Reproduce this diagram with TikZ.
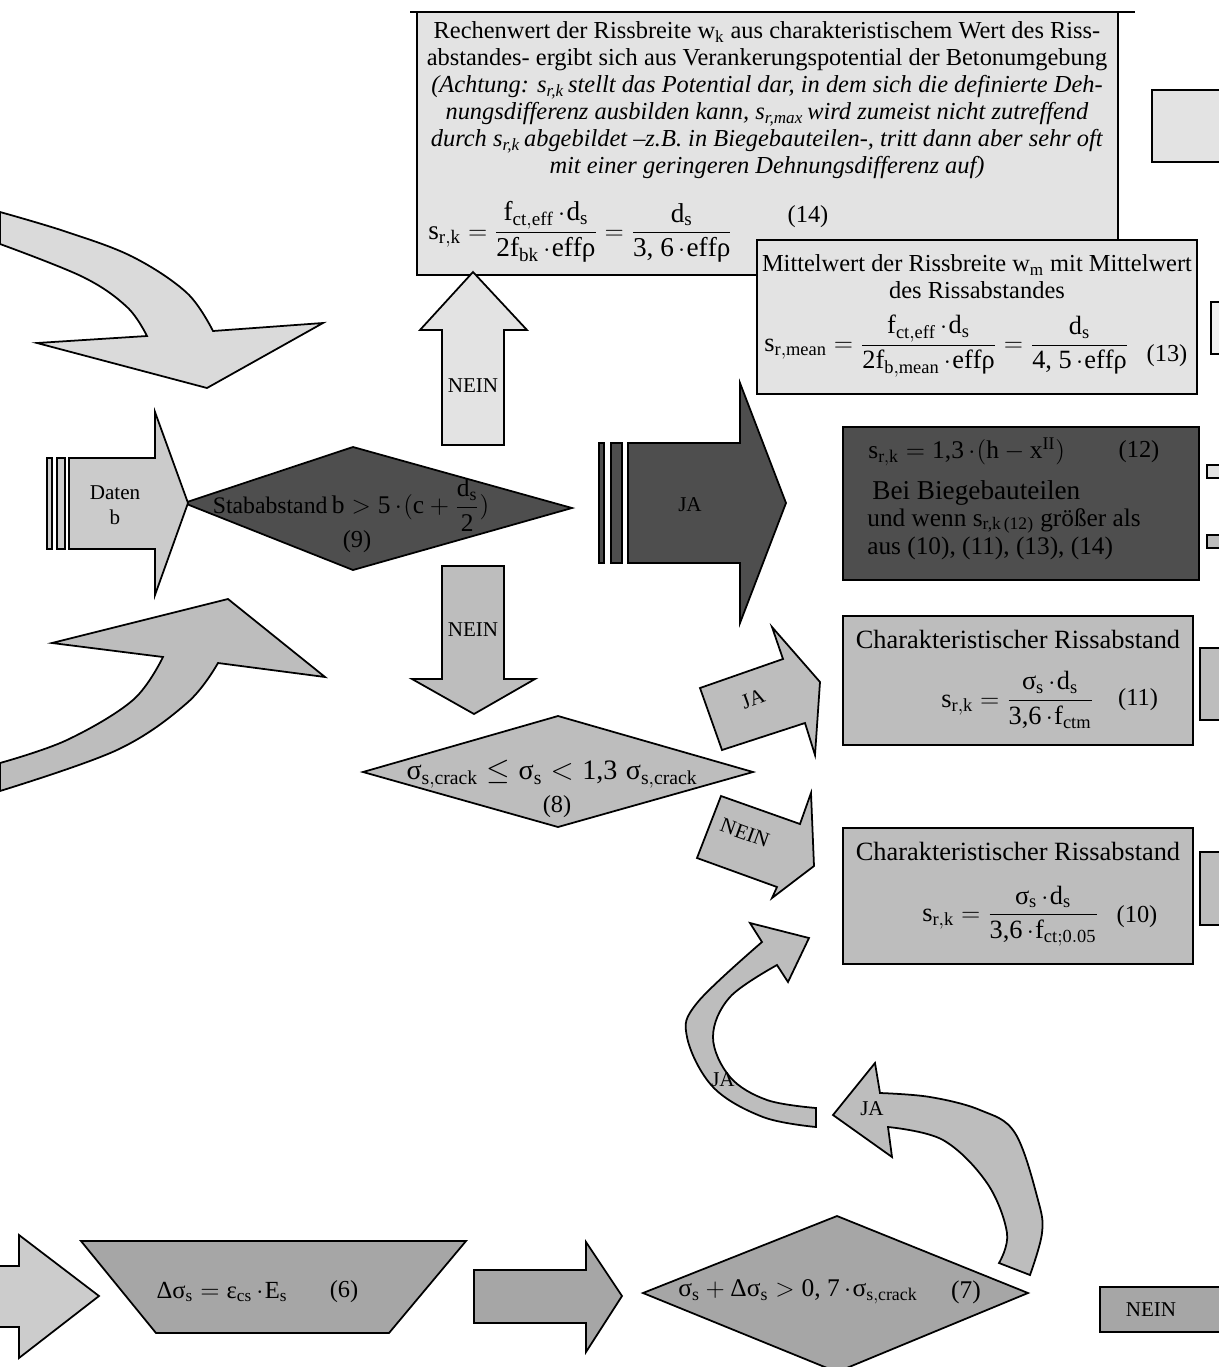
\documentclass[tikz,border=0pt]{standalone}
\usepackage{amsmath}
\usepackage{fontspec}
\setmainfont{Liberation Serif}
\definecolor{grlight}{HTML}{E3E3E3}
\definecolor{grpale}{HTML}{DADADA}
\definecolor{grdaten}{HTML}{CBCBCB}
\definecolor{grmid}{HTML}{BDBDBD}
\definecolor{grlow}{HTML}{A6A6A6}
\definecolor{grdark}{HTML}{4E4E4E}
\newcommand{\tx}[1]{\mathrm{#1}}
\newcommand{\nm}[1]{\text{#1}}
\newcommand{\dt}{\mskip3mu{\cdot}\mskip1mu}
\newcommand{\gsig}{\text{σ}}
\newcommand{\grho}{\text{ρ}}
\newcommand{\geps}{\text{ε}}
\newcommand{\gDelta}{\text{Δ}}

\begin{document}
\begin{tikzpicture}[x=0.02cm, y=-0.02cm,
  box/.style={draw=black, line width=1pt, line join=miter},
  txt/.style={inner sep=0pt, font=\fontsize{13.9}{15.4}\selectfont},
  big/.style={inner sep=0pt, font=\fontsize{15}{17}\selectfont},
  tag/.style={inner sep=0pt, font=\fontsize{12}{14}\selectfont}]
  \useasboundingbox (0,0) rectangle (1219,1367);
  \clip (0,0) rectangle (1219,1367);
  \fill[white] (0,0) rectangle (1219,1367);

  % Kasten (14) oben
  \draw[line width=1pt] (410,12) -- (1135,12);
  \filldraw[box, fill=grlight] (417,12) rectangle (1118,275);
  \node[txt, align=center] (ahead) at (767,100)
    {Rechenwert der Rissbreite w\textsubscript{k} aus charakteristischem Wert des Riss-\\
     abstandes- ergibt sich aus Verankerungspotential der Betonumgebung\\
     \textit{(Achtung: s\textsubscript{r,k}\,stellt das Potential dar, in dem sich die definierte Deh-}\\
     \textit{nungsdifferenz ausbilden kann, s\textsubscript{r,max}\,wird zumeist nicht zutreffend}\\
     \textit{durch s\textsubscript{r,k}\,abgebildet --z.B. in Biegebauteilen-, tritt dann aber sehr oft}\\
     \textit{mit einer geringeren Dehnungsdifferenz auf)}};
  \node[inner sep=0pt, font=\fontsize{15.5}{18}\selectfont, anchor=west] (feq14) at (428,232)
    {$\tx{s}_{\tx{r,k}} = \dfrac{\tx{f}_{\tx{ct,eff}}\dt\tx{d}_{\tx{s}}}{\nm{2}\tx{f}_{\tx{bk}}\dt\tx{eff}\grho}
      = \dfrac{\tx{d}_{\tx{s}}}{\nm{3, 6}\dt\tx{eff}\grho}$};
  \node[txt] (fno14) at (808,217) {(14)};

  % Kasten (13)
  \filldraw[box, fill=grlight] (757,240) rectangle (1197,394);
  \node[txt, align=center] (bhead) at (977,277)
    {Mittelwert der Rissbreite w\textsubscript{m} mit Mittelwert\\des Rissabstandes};
  \node[big, anchor=west] (feq13) at (764,346)
    {$\tx{s}_{\tx{r,mean}} = \dfrac{\tx{f}_{\tx{ct,eff}}\dt\tx{d}_{\tx{s}}}{\nm{2}\tx{f}_{\tx{b,mean}}\dt\tx{eff}\grho}
      = \dfrac{\tx{d}_{\tx{s}}}{\nm{4, 5}\dt\tx{eff}\grho}$};
  \node[txt] (fno13) at (1167,356) {(13)};

  % Kaesten am rechten Rand
  \filldraw[box, fill=grlight] (1152,90) rectangle (1230,162);
  \filldraw[box, fill=white!95!black] (1211,302) rectangle (1230,354);
  \filldraw[box, fill=grlight] (1207,465) rectangle (1230,478);
  \filldraw[box, fill=grmid] (1207,535) rectangle (1230,548);
  \filldraw[box, fill=grmid] (1200,648) rectangle (1230,720);
  \filldraw[box, fill=grmid] (1200,852) rectangle (1230,925);
  \filldraw[box, fill=grlow] (1100,1287) rectangle (1230,1332);
  \node[tag] (nein7) at (1151,1310) {NEIN};

  % gebogener Pfeil oben links
  \filldraw[box, fill=grpale]
    plot[smooth, tension=0.6] coordinates {(0,212) (67,232) (133,257) (187,293) (213,331)}
    -- (323,323) -- (207,388) -- (37,343) -- (147,336)
    -- plot[smooth, tension=0.6] coordinates {(147,336) (127,307) (83,277) (0,244)} -- cycle;

  % gebogener Pfeil unten links
  \filldraw[box, fill=grmid]
    plot[smooth, tension=0.6] coordinates {(0,763) (67,740) (133,700) (163,657)}
    -- (52,643) -- (228,599) -- (325,677) -- (218,663)
    -- plot[smooth, tension=0.6] coordinates {(218,663) (187,703) (117,750) (0,791)} -- cycle;

  % Raute (9)
  \filldraw[box, fill=grdark] (184,503) -- (353,447) -- (572,508) -- (353,570) -- cycle;
  \node[inner sep=0pt] (stab) at (351,505)
    {{\fontsize{13.5}{16}\selectfont Stababstand}\
     {\fontsize{14.5}{17}\selectfont $\tx{b} > \nm{5}\dt(\tx{c} + \dfrac{\tx{d}_{\tx{s}}}{\nm{2}})$}};
  \node[txt] (no9) at (357,542) {(9)};

  % Daten
  \filldraw[box, fill=grdaten] (47,458) rectangle (52,549);
  \filldraw[box, fill=grdaten] (57,458) rectangle (65,549);
  \filldraw[box, fill=grdaten] (69,458) -- (155,458) -- (155,412) -- (188,503)
    -- (155,595) -- (155,549) -- (69,549) -- cycle;
  \node[tag, align=center] (daten) at (115,505) {Daten\\b};

  % NEIN nach oben
  \filldraw[box, fill=grlight] (442,445) -- (442,330) -- (420,330) -- (473,272)
    -- (527,330) -- (504,330) -- (504,445) -- cycle;
  \node[tag] (neinup) at (473,386) {NEIN};

  % NEIN nach unten
  \filldraw[box, fill=grmid] (442,566) -- (504,566) -- (504,679) -- (535,679)
    -- (474,714) -- (412,679) -- (442,679) -- cycle;
  \node[tag] (neindown) at (473,630) {NEIN};

  % JA nach rechts
  \filldraw[box, fill=grdark] (599,443) rectangle (604,563);
  \filldraw[box, fill=grdark] (611,443) rectangle (622,563);
  \filldraw[box, fill=grdark] (628,443) -- (740,443) -- (740,383) -- (786,503)
    -- (740,623) -- (740,563) -- (628,563) -- cycle;
  \node[tag] (jabig) at (690,505) {JA};

  % Kasten (12)
  \filldraw[box, fill=grdark] (843,427) rectangle (1199,580);
  \node[inner sep=0pt, anchor=west, font=\fontsize{14.5}{17}\selectfont] (eq12) at (868,452)
    {$\tx{s}_{\tx{r,k}} = \nm{1,3}\dt(\tx{h}-\tx{x}^{\tx{II}})$};
  \node[txt] (no12) at (1139,452) {(12)};
  \node[inner sep=0pt, anchor=west, font=\fontsize{15.5}{18}\selectfont] (bei) at (872,493)
    {Bei Biegebauteilen};
  \node[inner sep=0pt, anchor=west, font=\fontsize{14.4}{17}\selectfont] (wenn) at (867,521)
    {und wenn s\textsubscript{r,k\,(12)} größer als};
  \node[inner sep=0pt, anchor=west, font=\fontsize{14.4}{17}\selectfont] (aus) at (867,548)
    {aus (10), (11), (13), (14)};

  % Raute (8)
  \filldraw[box, fill=grmid] (363,772) -- (558,716) -- (753,772) -- (558,827) -- cycle;
  \node[inner sep=0pt, font=\fontsize{16}{18}\selectfont] (cond8) at (552,774)
    {$\gsig_{\tx{s,crack}} \le \gsig_{\tx{s}} < \nm{1,3}\;\gsig_{\tx{s,crack}}$};
  \node[txt] (no8) at (557,807) {(8)};

  % JA schraeg
  \filldraw[box, fill=grmid] (700,688) -- (783,659) -- (772,627) -- (820,682)
    -- (815,755) -- (805,723) -- (722,750) -- cycle;
  \node[tag, rotate=20] (jaslant) at (753,699) {JA};

  % NEIN schraeg
  \filldraw[box, fill=grmid] (721,796) -- (800,824) -- (811,793) -- (814,866)
    -- (772,898) -- (777,887) -- (697,858) -- cycle;
  \node[tag, rotate=-20] (neinslant) at (745,833) {NEIN};

  % Kasten (11)
  \filldraw[box, fill=grmid] (843,616) rectangle (1193,745);
  \node[big] (title11) at (1018,639) {Charakteristischer Rissabstand};
  \node[big, anchor=east] (feq11) at (1094,700)
    {$\tx{s}_{\tx{r,k}} = \dfrac{\gsig_{\tx{s}}\dt\tx{d}_{\tx{s}}}{\nm{3,6}\dt\tx{f}_{\tx{ctm}}}$};
  \node[txt] (no11) at (1138,700) {(11)};

  % Kasten (10)
  \filldraw[box, fill=grmid] (843,828) rectangle (1193,964);
  \node[big] (title10) at (1018,851) {Charakteristischer Rissabstand};
  \node[big, anchor=east] (feq10) at (1099,916)
    {$\tx{s}_{\tx{r,k}} = \dfrac{\gsig_{\tx{s}}\dt\tx{d}_{\tx{s}}}{\nm{3,6}\dt\tx{f}_{\tx{ct;0.05}}}$};
  \node[txt] (no10) at (1137,917) {(10)};

  % gebogener JA-Pfeil nach oben
  \filldraw[box, fill=grmid]
    plot[smooth, tension=0.6] coordinates {(762,942) (697,1003) (687,1037) (713,1087) (763,1117) (816,1127)}
    -- (816,1108)
    -- plot[smooth, tension=0.6] coordinates {(816,1108) (767,1100) (730,1077) (713,1037) (730,997) (777,965)}
    -- (788,982) -- (809,938) -- (750,923) -- cycle;
  \node[tag] (jaloop) at (723,1080) {JA};

  % gebogener JA-Pfeil von (7)
  \filldraw[box, fill=grmid] (833,1115) -- (875,1063) -- (880,1093)
    -- plot[smooth, tension=0.6] coordinates {(880,1093) (930,1097) (980,1110) (1015,1133) (1038,1200) (1042,1233) (1030,1275)}
    -- (999,1263)
    -- plot[smooth, tension=0.6] coordinates {(999,1263) (1007,1233) (987,1183) (943,1140) (888,1127)}
    -- (892,1157) -- cycle;
  \node[tag] (jaback) at (872,1109) {JA};

  % untere Reihe
  \filldraw[box, fill=grlight!90!black] (-5,1266) -- (19,1266) -- (19,1235) -- (99,1296)
    -- (19,1358) -- (19,1327) -- (-5,1327) -- cycle;
  \filldraw[box, fill=grlow] (81,1241) -- (466,1241) -- (389,1333) -- (156,1333) -- cycle;
  \node[inner sep=0pt, font=\fontsize{14}{16}\selectfont] (eq6) at (222,1292)
    {$\gDelta\gsig_{\tx{s}} = \geps_{\tx{cs}}\dt\tx{E}_{\tx{s}}$};
  \node[txt] (no6) at (344,1292) {(6)};
  \filldraw[box, fill=grlow] (474,1270) -- (586,1270) -- (586,1242) -- (622,1296)
    -- (586,1352) -- (586,1323) -- (474,1323) -- cycle;

  % Raute (7)
  \filldraw[box, fill=grlow] (643,1293) -- (837,1216) -- (1028,1293) -- (837,1372) -- cycle;
  \node[inner sep=0pt, font=\fontsize{14.5}{17}\selectfont] (cond7) at (798,1292)
    {$\gsig_{\tx{s}} + \gDelta\gsig_{\tx{s}} > \nm{0, 7}\dt\gsig_{\tx{s,crack}}$};
  \node[inner sep=0pt, font=\fontsize{14.5}{17}\selectfont] (no7) at (966,1292) {(7)};
\end{tikzpicture}
\end{document}
